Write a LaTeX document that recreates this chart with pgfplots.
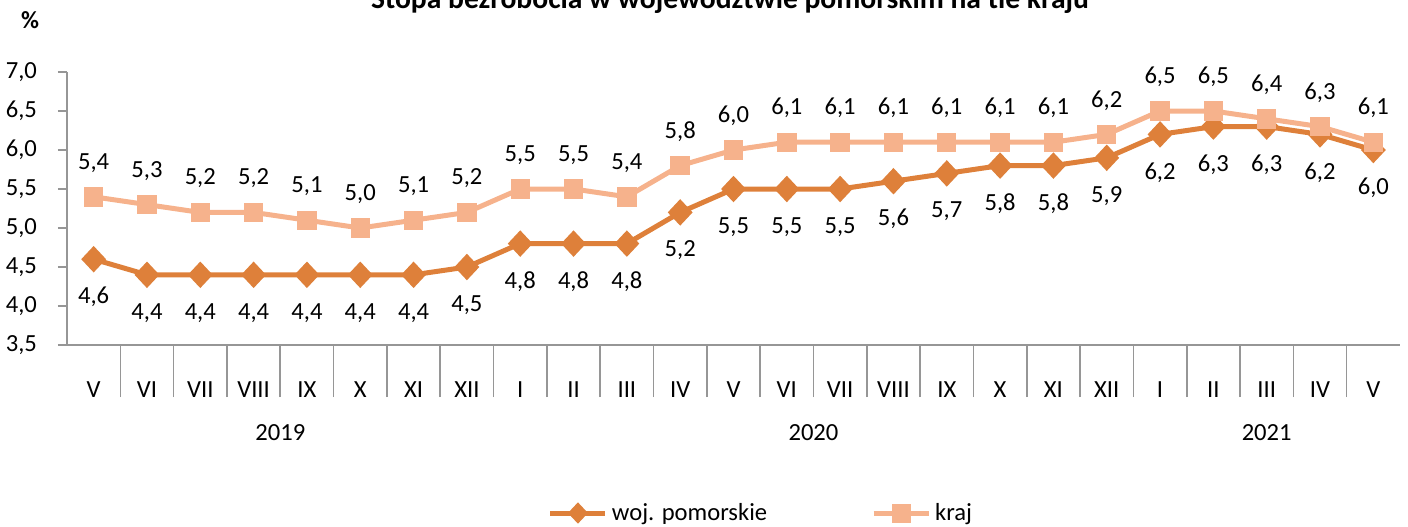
\documentclass[border=0pt]{standalone}
\usepackage{pgfplots}
\pgfplotsset{compat=1.18}
\usepackage{fontspec}
\setmainfont{Carlito}
\definecolor{pom}{RGB}{222,128,58}
\definecolor{kraj}{RGB}{246,178,140}
\definecolor{axgray}{RGB}{150,150,150}
\begin{document}
\begin{tikzpicture}[font=\fontsize{12.3}{14}\selectfont]
\begin{axis}[
  at={(0pt,0pt)}, anchor=south west,
  scale only axis, width=666.5pt, height=136.5pt,
  xmin=-0.5, xmax=24.5, ymin=3.5, ymax=7.0,
  clip=false,
  axis lines*=left,
  axis line style={axgray, line width=0.8pt},
  every tick/.style={axgray, line width=0.8pt},
  ytick={3.5,4,4.5,5,5.5,6,6.5,7},
  tick align=outside,
  /pgf/number format/.cd, assume math mode=true, fixed, fixed zerofill, precision=1, use comma,
  /pgfplots/.cd,
  xtick={0,...,24},
  xticklabels={V,VI,VII,VIII,IX,X,XI,XII,I,II,III,IV,V,VI,VII,VIII,IX,X,XI,XII,I,II,III,IV,V},
  major x tick style={draw=none},
  major tick length=4.5pt,
  minor x tick num=1,
  minor tick length=26pt,
  x tick label style={anchor=center, yshift=-18pt},
  y tick label style={xshift=-7pt},
  extra x ticks={-0.5,7.5,19.5,24.5},
  extra x tick labels={},
  extra x tick style={major tick length=51.5pt, major x tick style={axgray, line width=0.8pt}},
  nodes near coords,
  legend columns=2,
  legend style={draw=none, at={(0.5214,-0.6154)}, anchor=center, font=\fontsize{12.3}{14}\selectfont,
    /tikz/every even column/.append style={column sep=50pt}},
  legend image code/.code={\draw[mark repeat=2,mark phase=2,mark size=3.5pt] plot coordinates {(0pt,0pt) (13.75pt,0pt) (27.5pt,0pt)};},
]
\addplot[color=pom, line width=2.5pt, mark=diamond*, mark size=4.8pt,
  mark options={xscale=1.25, solid},
  every node near coord/.append style={black, anchor=center, yshift=-19pt, font=\fontsize{12.3}{14}\selectfont}]
  coordinates {(0,4.6)(1,4.4)(2,4.4)(3,4.4)(4,4.4)(5,4.4)(6,4.4)(7,4.5)(8,4.8)(9,4.8)(10,4.8)(11,5.2)(12,5.5)(13,5.5)(14,5.5)(15,5.6)(16,5.7)(17,5.8)(18,5.8)(19,5.9)(20,6.2)(21,6.3)(22,6.3)(23,6.2)(24,6.0)};
\addlegendentry{woj. pomorskie}
\addplot[color=kraj, line width=2.5pt, mark=square*, mark size=3.6pt,
  mark options={solid},
  every node near coord/.append style={black, anchor=center, yshift=17pt, font=\fontsize{12.3}{14}\selectfont}]
  coordinates {(0,5.4)(1,5.3)(2,5.2)(3,5.2)(4,5.1)(5,5.0)(6,5.1)(7,5.2)(8,5.5)(9,5.5)(10,5.4)(11,5.8)(12,6.0)(13,6.1)(14,6.1)(15,6.1)(16,6.1)(17,6.1)(18,6.1)(19,6.2)(20,6.5)(21,6.5)(22,6.4)(23,6.3)(24,6.1)};
\addlegendentry{kraj}
\node[anchor=center] at (axis cs:3.5,3.5) [yshift=-44pt] {2019};
\node[anchor=center] at (axis cs:13.5,3.5) [yshift=-44pt] {2020};
\node[anchor=center] at (axis cs:22,3.5) [yshift=-44pt] {2021};
\end{axis}
\node[anchor=base, font=\fontsize{14.8}{16}\selectfont\bfseries] at (331.5pt,168.5pt) {Stopa bezrobocia w województwie pomorskim na tle kraju};
\node[anchor=center, font=\fontsize{12.3}{14}\selectfont\bfseries] at (-18.5pt,162.5pt) {\%};
\pgfresetboundingbox
\path[use as bounding box] (-33.5pt,-90.5pt) rectangle (670.5pt,172.5pt);
\end{tikzpicture}
\end{document}
